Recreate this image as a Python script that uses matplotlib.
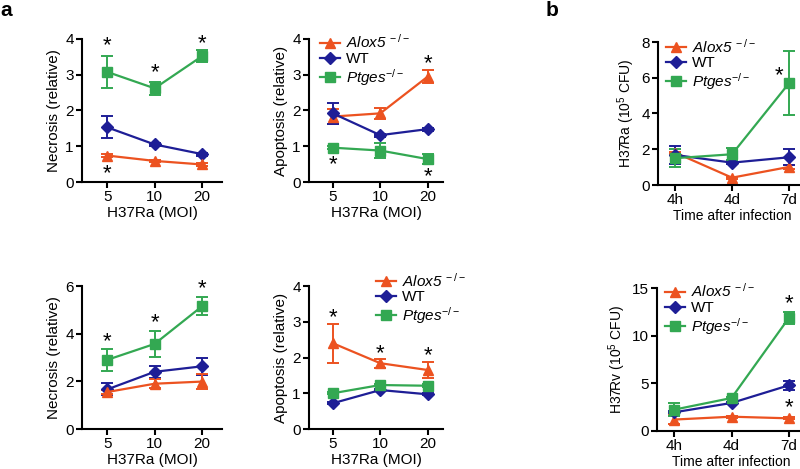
import matplotlib
matplotlib.use("Agg")
import matplotlib.pyplot as plt
from matplotlib.lines import Line2D

plt.rcParams['font.family'] = ['Liberation Sans', 'DejaVu Sans']
plt.rcParams['mathtext.fontset'] = 'custom'
plt.rcParams['mathtext.rm'] = 'Liberation Sans'
plt.rcParams['mathtext.it'] = 'Liberation Sans:italic'

# colours and labels
c_alox = '#EC5220'
c_wt = '#1E1E96'
c_ptg = '#33A852'
lab_alox = r'Alox5$^{\ -/-}$'
lab_wt = 'WT'
lab_ptg = r'Ptges$^{-/-}$'

moi = ['5', '10', '20']
times = ['4h', '4d', '7d']

# panel a, top-left: necrosis
nec1_ptg = [3.08, 2.62, 3.52]
nec1_ptg_err = [0.44, 0.18, 0.16]
nec1_wt = [1.53, 1.05, 0.78]
nec1_wt_err = [0.31, 0.04, 0.04]
nec1_alox = [0.74, 0.59, 0.49]
nec1_alox_err = [0.03, 0.03, 0.03]

# panel a, top-middle: apoptosis
apo1_alox = [1.83, 1.92, 2.95]
apo1_alox_err = [0.2, 0.15, 0.17]
apo1_wt = [1.92, 1.31, 1.48]
apo1_wt_err = [0.3, 0.04, 0.04]
apo1_ptg = [0.96, 0.88, 0.64]
apo1_ptg_err = [0.04, 0.22, 0.15]

# panel b, top: H37Ra CFU
ra_alox = [1.81, 0.41, 1.01]
ra_alox_err = [0.05, 0.05, 0.1]
ra_wt = [1.68, 1.25, 1.55]
ra_wt_err = [0.5, 0.1, 0.45]
ra_ptg = [1.5, 1.72, 5.69]
ra_ptg_err = [0.52, 0.33, 1.8]

# panel a, bottom-left: necrosis
nec2_ptg = [2.9, 3.57, 5.15]
nec2_ptg_err = [0.47, 0.55, 0.37]
nec2_wt = [1.66, 2.4, 2.63]
nec2_wt_err = [0.25, 0.25, 0.35]
nec2_alox = [1.55, 1.9, 1.99]
nec2_alox_err = [0.1, 0.2, 0.3]

# panel a, bottom-middle: apoptosis
apo2_alox = [2.4, 1.84, 1.65]
apo2_alox_err = [0.55, 0.13, 0.22]
apo2_wt = [0.72, 1.09, 0.97]
apo2_wt_err = [0.03, 0.03, 0.03]
apo2_ptg = [1.0, 1.23, 1.21]
apo2_ptg_err = [0.03, 0.04, 0.04]

# panel b, bottom: H37Rv CFU
rv_alox = [1.2, 1.5, 1.33]
rv_alox_err = [0.5, 0.1, 0.1]
rv_wt = [1.96, 2.94, 4.79]
rv_wt_err = [0.1, 0.1, 0.5]
rv_ptg = [2.24, 3.46, 11.85]
rv_ptg_err = [0.7, 0.1, 0.6]

W, H = 800, 469
fig = plt.figure(figsize=(8, 4.69), dpi=100)


def make_ax(x0, x1, ytop, ybot):
    return fig.add_axes([x0 / W, 1 - ybot / H, (x1 - x0) / W, (ybot - ytop) / H])


def series(ax, y, err, color, marker, ms=7):
    x = range(len(y))
    ax.errorbar(x, y, yerr=err, color=color, marker=marker, ms=ms, lw=1.6,
                capsize=4, capthick=1.4, elinewidth=1.4)


def style(ax, ticks, ymax, ystep, ylabel, xlabel, xlim, fs=11):
    ax.set_xticks(range(3))
    ax.set_xticklabels(ticks)
    ax.set_xlim(*xlim)
    ax.set_ylim(0, ymax)
    ax.set_yticks(range(0, ymax + 1, ystep))
    for s in ['top', 'right']:
        ax.spines[s].set_visible(False)
    for s in ['left', 'bottom']:
        ax.spines[s].set_linewidth(1.5)
    ax.tick_params(width=1.5, length=4, labelsize=11, pad=2)
    ax.set_ylabel(ylabel, fontsize=fs, labelpad=3)
    ax.set_xlabel(xlabel, fontsize=fs, labelpad=1.5)


def star(ax, x, y):
    ax.text(x, y, '*', ha='center', va='center', fontsize=16)


def legend(ax, anchor):
    handles = [Line2D([], [], color=c_alox, marker='^', ms=7, lw=1.6),
               Line2D([], [], color=c_wt, marker='D', ms=6, lw=1.6),
               Line2D([], [], color=c_ptg, marker='s', ms=7, lw=1.6)]
    leg = ax.legend(handles, [lab_alox, lab_wt, lab_ptg], loc='upper left',
                    bbox_to_anchor=anchor, frameon=False,
                    prop={'style': 'italic', 'size': 11},
                    handlelength=1.3, handletextpad=0.4, labelspacing=0.05,
                    borderaxespad=0, borderpad=0)
    leg.get_texts()[1].set_style('normal')


# top-left
ax1 = make_ax(82, 222, 39, 182)
series(ax1, nec1_ptg, nec1_ptg_err, c_ptg, 's')
series(ax1, nec1_wt, nec1_wt_err, c_wt, 'D', ms=6)
series(ax1, nec1_alox, nec1_alox_err, c_alox, '^')
style(ax1, moi, 4, 1, 'Necrosis (relative)', 'H37Ra (MOI)', (-0.53, 2.42))
star(ax1, 0, 3.8)
star(ax1, 1, 3.05)
star(ax1, 2, 3.88)
star(ax1, 0, 0.22)

# top-middle
ax2 = make_ax(309, 443, 39, 182)
series(ax2, apo1_alox, apo1_alox_err, c_alox, '^')
series(ax2, apo1_wt, apo1_wt_err, c_wt, 'D', ms=6)
series(ax2, apo1_ptg, apo1_ptg_err, c_ptg, 's')
style(ax2, moi, 4, 1, 'Apoptosis (relative)', 'H37Ra (MOI)', (-0.5, 2.32))
legend(ax2, (0.08, 1.04))
star(ax2, 0, 0.48)
star(ax2, 2, 3.32)
star(ax2, 2, 0.14)

# top-right
ax3 = make_ax(658, 806, 42, 185)
series(ax3, ra_alox, ra_alox_err, c_alox, '^')
series(ax3, ra_wt, ra_wt_err, c_wt, 'D', ms=6)
series(ax3, ra_ptg, ra_ptg_err, c_ptg, 's')
style(ax3, times, 8, 2, 'H37Ra (10$^5$ CFU)', 'Time after infection',
      (-0.3, 2.3), fs=10)
legend(ax3, (0.055, 1.03))
star(ax3, 1.82, 6.1)

# bottom-left
ax4 = make_ax(82, 222, 286, 429)
series(ax4, nec2_ptg, nec2_ptg_err, c_ptg, 's')
series(ax4, nec2_wt, nec2_wt_err, c_wt, 'D', ms=6)
series(ax4, nec2_alox, nec2_alox_err, c_alox, '^')
style(ax4, moi, 6, 2, 'Necrosis (relative)', 'H37Ra (MOI)', (-0.53, 2.42))
star(ax4, 0, 3.65)
star(ax4, 1, 4.45)
star(ax4, 2, 5.88)

# bottom-middle
ax5 = make_ax(309, 443, 286, 429)
series(ax5, apo2_alox, apo2_alox_err, c_alox, '^')
series(ax5, apo2_wt, apo2_wt_err, c_wt, 'D', ms=6)
series(ax5, apo2_ptg, apo2_ptg_err, c_ptg, 's')
style(ax5, moi, 4, 1, 'Apoptosis (relative)', 'H37Ra (MOI)', (-0.5, 2.32))
legend(ax5, (0.5, 1.1))
star(ax5, 0, 3.12)
star(ax5, 1, 2.12)
star(ax5, 2, 2.05)

# bottom-right
ax6 = make_ax(657, 806, 288, 431)
series(ax6, rv_alox, rv_alox_err, c_alox, '^')
series(ax6, rv_wt, rv_wt_err, c_wt, 'D', ms=6)
series(ax6, rv_ptg, rv_ptg_err, c_ptg, 's')
style(ax6, times, 15, 5, 'H37Rv (10$^5$ CFU)', 'Time after infection',
      (-0.3, 2.3), fs=10)
legend(ax6, (0.055, 1.04))
star(ax6, 2, 13.4)
star(ax6, 2, 2.4)

fig.text(0 / W, 1 - 10 / H, 'a', fontsize=15, fontweight='bold', va='center')
fig.text(546 / W, 1 - 10 / H, 'b', fontsize=15, fontweight='bold', va='center')

fig.savefig('out.png', dpi=100)
